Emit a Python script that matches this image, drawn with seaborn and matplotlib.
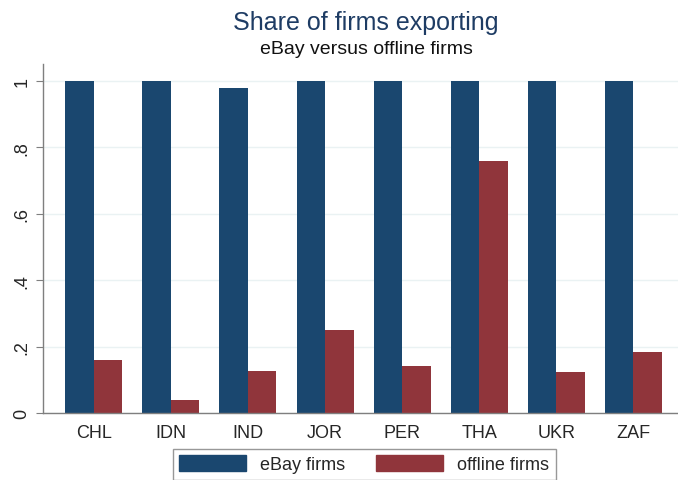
import pandas as pd
import matplotlib
matplotlib.use("Agg")
import matplotlib.pyplot as plt
import seaborn as sns

# data
countries = ['CHL', 'IDN', 'IND', 'JOR', 'PER', 'THA', 'UKR', 'ZAF']
ebay_share = [1.0, 1.0, 0.98, 1.0, 1.0, 1.0, 1.0, 1.0]
offline_share = [0.16, 0.039, 0.127, 0.25, 0.142, 0.76, 0.123, 0.184]
groups = ['eBay firms', 'offline firms']

df = pd.DataFrame({
    'country': countries * 2,
    'share': ebay_share + offline_share,
    'group': [groups[0]] * len(countries) + [groups[1]] * len(countries),
})

sns.set_style('white')
plt.rcParams['font.family'] = ['Liberation Sans', 'DejaVu Sans']

fig = plt.figure(figsize=(6.78, 4.81), dpi=100)
ax = fig.add_axes([0.0634, 0.1393, 0.9366, 0.7256])

palette = {'eBay firms': '#1a476f', 'offline firms': '#90353b'}
sns.barplot(data=df, x='country', y='share', hue='group', palette=palette,
            width=0.74, saturation=1, linewidth=0, ax=ax, legend=False)

ax.set_xlim(-0.66, 7.58)
ax.set_ylim(0, 1.051)
ax.set_yticks([0, 0.2, 0.4, 0.6, 0.8, 1.0])
ax.set_yticklabels(['0', '.2', '.4', '.6', '.8', '1'], rotation=90, va='center')
ax.yaxis.grid(True, color='#eaf2f3', linewidth=1)
ax.set_axisbelow(True)
ax.set_xlabel('')
ax.set_ylabel('')
for s in ['top', 'right']:
    ax.spines[s].set_visible(False)
for s in ['left', 'bottom']:
    ax.spines[s].set_color('#7f7f7f')
    ax.spines[s].set_linewidth(1)
ax.tick_params(axis='y', length=5, color='#7f7f7f', labelsize=13, pad=4, left=True)
ax.tick_params(axis='x', length=0, labelsize=13, pad=8)

fig.text(0.54, 0.952, 'Share of firms exporting', ha='center', va='center',
         fontsize=18, color='#1e3c64')
fig.text(0.54, 0.898, 'eBay versus offline firms', ha='center', va='center',
         fontsize=14, color='#111111')

handles = [plt.Rectangle((0, 0), 1, 1, color=palette[g]) for g in groups]
leg = fig.legend(handles, groups, loc='center', bbox_to_anchor=(0.537, 0.033),
                 ncol=2, frameon=True, fancybox=False, fontsize=13,
                 handlelength=3.7, handleheight=1.0, columnspacing=1.7,
                 handletextpad=0.8, borderpad=0.35)
leg.get_frame().set_edgecolor('#7f7f7f')
leg.get_frame().set_linewidth(1)

fig.savefig('out.png', dpi=100)
